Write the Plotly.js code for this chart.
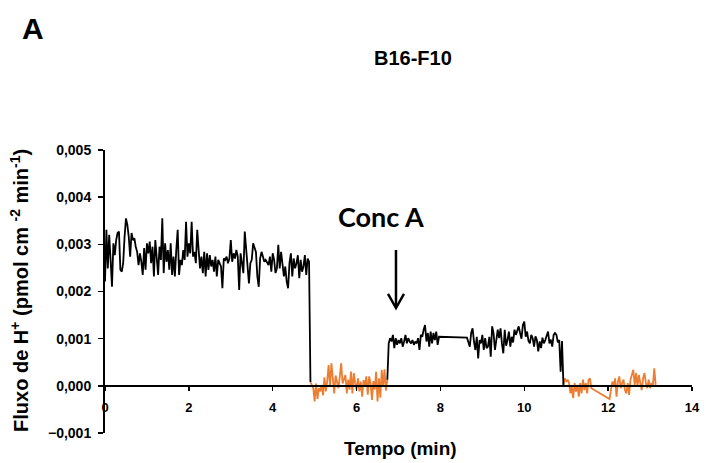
<!DOCTYPE html>
<html>
<head>
<meta charset="utf-8">
<script src="https://cdn.plot.ly/plotly-3.0.1.min.js"></script>
<style>html,body{margin:0;padding:0;background:#fff;}#chart{width:706px;height:463px;}</style>
</head>
<body>
<div id="chart"></div>
<script>
// ---- Data (time in seconds, flux in pmol cm^-2 min^-1) ----
const baselineSec = [0,2,4,6,8,10,12,14,16,18,20,22,24,26,28,30,32,34,36,38,40,42,44,46,48,50,52,54,56,58,60,62,64,66,68,70,72,74,76,78,80,82,84,86,88,90,92,94,96,98,100,102,104,106,108,110,112,114,116,118,120,122,124,126,128,130,132,134,136,138,140,142,144,146,148,150,152,154,156,158,160,162,164,166,168,170,172,174,176,178,180,182,184,186,188,190,192,194,196,198,200,202,204,206,208,210,212,214,216,218,220,222,224,226,228,230,232,234,236,238,240,242,244,246,248,250,252,254,256,258,260,262,264,266,268,270,272,274,276,278,280,282,284,286,288,290,292];
const baselineFlux = [0.00221,0.00331,0.00249,0.00320,0.00267,0.00210,0.00302,0.00277,0.00309,0.00324,0.00327,0.00246,0.00242,0.00260,0.00316,0.00355,0.00341,0.00316,0.00274,0.00324,0.00309,0.00313,0.00295,0.00284,0.00256,0.00281,0.00263,0.00235,0.00292,0.00246,0.00302,0.00281,0.00306,0.00260,0.00295,0.00232,0.00309,0.00267,0.00235,0.00295,0.00267,0.00355,0.00239,0.00302,0.00263,0.00288,0.00246,0.00302,0.00235,0.00274,
0.00232,0.00288,0.00331,0.00235,0.00267,0.00256,0.00288,0.00267,0.00348,0.00274,0.00302,0.00281,0.00348,0.00274,0.00284,0.00260,0.00331,0.00288,0.00249,0.00274,0.00239,0.00284,0.00232,0.00281,0.00246,0.00277,0.00253,0.00267,0.00242,0.00274,0.00232,0.00267,0.00260,0.00253,0.00207,0.00270,0.00267,0.00274,0.00260,0.00270,0.00309,0.00263,0.00281,0.00270,0.00288,0.00274,0.00203,0.00281,0.00260,0.00239,0.00327,0.00288,
0.00239,0.00217,0.00260,0.00267,0.00302,0.00292,0.00284,0.00232,0.00210,0.00270,0.00284,0.00274,0.00263,0.00267,0.00260,0.00256,0.00274,0.00242,0.00281,0.00267,0.00239,0.00249,0.00299,0.00249,0.00284,0.00260,0.00232,0.00253,0.00221,0.00207,0.00260,0.00281,0.00232,0.00270,0.00249,0.00260,0.00277,0.00228,0.00267,0.00242,0.00253,0.00277,0.00235,0.00270,0.00263];

const blank1Sec = [294,296,298,300,302,304,306,308,310,312,314,316,318,320,322,324,326,328,330,332,334,336,338,340,342,344,346,348,350,352,354,356,358,360,362,364,366,368,370,372,374,376,378,380,382,384,386,388,390,392,394,396,398,400,402,404];
const blank1Flux = [0.00008,0.00002,-0.00005,-0.00033,0.00005,-0.00028,-0.00005,-0.00012,0.00002,-0.00020,0.00018,-0.00012,0.00010,0.00044,-0.00001,0.00048,0.00020,-0.00016,0.00022,0.00006,-0.00005,0.00020,0.00048,0.00005,0.00013,0.00023,-0.00016,0.00013,-0.00008,0.00030,-0.00016,0.00027,0.00006,-0.00008,0.00016,-0.00012,0.00009,-0.00023,0.00012,-0.00001,0.00020,-0.00019,0.00020,0.00005,-0.00030,0.00010,-0.00008,0.00030,-0.00033,0.00016,-0.00025,0.00034,-0.00001,0.00035,-0.00010,0.00013];

const concASec1 = [406,408,410,412,414,416,418,420,422,424,426,428,430,432,434,436,438,440,442,444,446,448,450,452,454,456,458,460,462,464,466,468,470,472,474,476,478];
const concAFlux1 = [0.00090,0.00101,0.00094,0.00108,0.00080,0.00101,0.00087,0.00097,0.00090,0.00101,0.00083,0.00094,0.00108,0.00090,0.00101,0.00094,0.00090,0.00097,0.00087,0.00094,0.00090,0.00101,0.00076,0.00108,0.00104,0.00119,0.00129,0.00094,0.00112,0.00083,0.00115,0.00090,0.00112,0.00097,0.00115,0.00087,0.00104];

const concASec2 = [518,520,522,524,526,528,530,532,534,536,538,540,542,544];
const concAFlux2 = [0.00102,0.00094,0.00083,0.00112,0.00122,0.00094,0.00076,0.00104,0.00058,0.00097,0.00090,0.00108,0.00076,0.00101];

const concASec3 = [546,548,550,552,554,556,558,560,562,564,566,568,570,572,574,576,578,580,582,584,586,588,590,592,594,596,598,600,602,604,606,608,610,612,614,616,618,620,622,624,626,628,630,632,634,636,638,640,642,644,646,648,650,652,654];
const concAFlux3 = [0.00080,0.00083,0.00104,0.00062,0.00126,0.00112,0.00076,0.00097,0.00119,0.00101,0.00122,0.00090,0.00069,0.00119,0.00085,0.00097,0.00115,0.00083,0.00104,0.00092,0.00119,0.00108,0.00115,0.00126,0.00112,0.00100,0.00129,0.00136,0.00104,0.00115,0.00095,0.00090,0.00108,0.00101,0.00083,0.00105,0.00097,0.00073,0.00094,0.00080,0.00102,0.00090,0.00097,0.00104,0.00115,0.00090,0.00098,0.00083,0.00108,0.00112,0.00108,0.00092,0.00097,0.00030,0.00095];

const blank2Sec1 = [656,658,660,662,664,666,668,670,672,674,676,678,680,682,684,686,688,690,692,694,696];
const blank2Flux1 = [0.00002,0.00016,0.00009,0.00013,0.00006,-0.00016,-0.00001,-0.00026,0.00006,-0.00012,0.00002,-0.00023,0.00006,-0.00016,0.00013,-0.00009,0.00006,-0.00016,0.00013,0.00016,-0.00005];

const blank2Sec2 = [722,724,726,728,730,732,734,736,738,740,742,744,746,748,750,752,754,756,758,760,762,764,766,768,770,772,774,776,778,780,782,784,786,788];
const blank2Flux2 = [-0.00028,-0.00009,0.00009,-0.00001,0.00016,-0.00023,0.00009,0.00020,-0.00005,0.00006,0.00013,-0.00009,-0.00016,0.00006,-0.00019,0.00013,0.00023,0.00034,0.00002,0.00027,-0.00001,0.00023,0.00006,-0.00009,0.00016,0.00027,0.00006,-0.00005,0.00013,-0.00005,0.00006,-0.00001,0.00037,0.00002];

const xTickVals = [0,2,4,6,8,10,12,14];
const yTickVals = [-0.001,0,0.001,0.002,0.003,0.004,0.005];

// ---- Build traces ----
const last = a => a[a.length-1];
const sec2min = a => a.map(s => s === null ? null : s/60);

const blackX = [].concat(baselineSec, [blank1Sec[0]], [null],
  [last(blank1Sec)], concASec1, concASec2, concASec3, [blank2Sec1[0]]);
const blackY = [].concat(baselineFlux, [blank1Flux[0]], [null],
  [last(blank1Flux)], concAFlux1, concAFlux2, concAFlux3, [blank2Flux1[0]]);
const orangeX = [].concat(blank1Sec, [null], blank2Sec1, blank2Sec2);
const orangeY = [].concat(blank1Flux, [null], blank2Flux1, blank2Flux2);

const orange = {
  x: sec2min(orangeX), y: orangeY,
  mode: 'lines', line: {color: '#ED7D31', width: 1.8}, connectgaps: false, hoverinfo: 'skip'
};
const black = {
  x: sec2min(blackX), y: blackY,
  mode: 'lines', line: {color: '#000000', width: 1.8}, connectgaps: false, hoverinfo: 'skip'
};

const F = 'Liberation Sans, Arial, sans-serif';
const layout = {
  width: 706, height: 463,
  margin: {l: 105, r: 14, t: 150, b: 30},
  paper_bgcolor: '#fff', plot_bgcolor: '#fff',
  separators: ',.',
  showlegend: false,
  font: {family: F, color: '#000'},
  xaxis: {
    range: [0, 14], tickvals: xTickVals, ticktext: xTickVals.map(String),
    anchor: 'free', position: 1/6,
    showline: true, linecolor: '#000', linewidth: 2,
    ticks: 'outside', ticklen: 4, tickwidth: 1.5, tickcolor: '#000',
    ticklabelstandoff: 6,
    showgrid: false, zeroline: false,
    tickfont: {family: F, size: 13, weight: 'bold', color: '#000'}
  },
  yaxis: {
    range: [-0.001, 0.005], tickvals: yTickVals, tickformat: '.3f',
    showline: true, linecolor: '#000', linewidth: 2,
    ticks: 'outside', ticklen: 5, tickwidth: 1.5, tickcolor: '#000',
    ticklabelstandoff: 4,
    showgrid: false, zeroline: false,
    tickfont: {family: F, size: 14, weight: 'bold', color: '#000'}
  },
  shapes: [
    {type: 'line', xref: 'x', yref: 'y', x0: 6.94, x1: 6.94, y0: 0.00288, y1: 0.00167,
     line: {color: '#000', width: 2.5}},
    {type: 'path', xref: 'x', yref: 'y', path: 'M6.75,0.00195 L6.94,0.00165 L7.13,0.00195',
     line: {color: '#000', width: 2.5}}
  ],
  annotations: [
    {text: '<b>A</b>', xref: 'paper', yref: 'paper', x: -0.1227, y: 1.431,
     xanchor: 'center', yanchor: 'middle', showarrow: false, font: {family: F, size: 30, color: '#000'}},
    {text: '<b>B16-F10</b>', xref: 'paper', yref: 'paper', x: 0.5247, y: 1.325,
     xanchor: 'center', yanchor: 'middle', showarrow: false, font: {family: F, size: 20, color: '#000'}},
    {text: '<b>Conc A</b>', xref: 'x', yref: 'y', x: 6.58, y: 0.0036,
     xanchor: 'center', yanchor: 'middle', showarrow: false, font: {family: 'Lato, Carlito, sans-serif', size: 27, color: '#000'}},
    {text: '<b>Tempo (min)</b>', xref: 'paper', yref: 'paper', x: 0.5026, y: -0.0565,
     xanchor: 'center', yanchor: 'middle', showarrow: false, font: {family: F, size: 19, color: '#000'}},
    {text: '<b>Fluxo de H<sup>+</sup> (pmol cm <sup>-2</sup> min<sup>-1</sup>)</b>', xref: 'paper', yref: 'paper',
     x: -0.1448, y: 0.502, textangle: -90,
     xanchor: 'center', yanchor: 'middle', showarrow: false, font: {family: F, size: 20, color: '#000'}}
  ]
};

Plotly.newPlot('chart', [orange, black], layout, {staticPlot: true, displayModeBar: false});
</script>
</body>
</html>
